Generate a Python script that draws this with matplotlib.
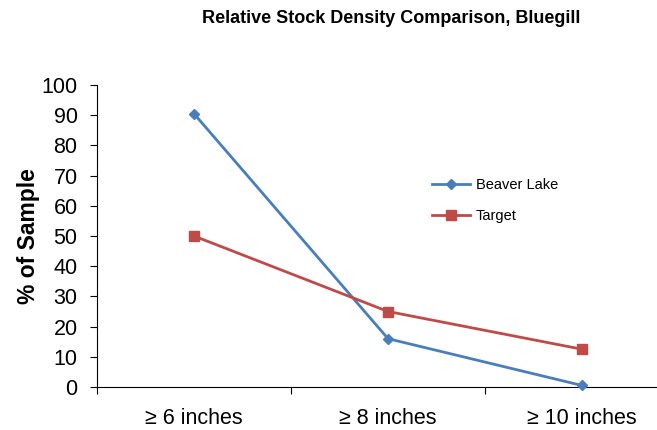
import matplotlib

matplotlib.use("Agg")
import matplotlib.pyplot as plt
from matplotlib.ticker import FixedLocator, NullFormatter, FixedFormatter

categories = ["\u2265 6 inches", "\u2265 8 inches", "\u2265 10 inches"]
beaver_lake = [90.5, 16.0, 0.5]
target = [50.0, 25.0, 12.5]
y_ticks = list(range(0, 101, 10))

BLUE = "#4A7EBB"
RED = "#BE4B48"
FONT = ["Liberation Sans", "DejaVu Sans"]

fig = plt.figure(figsize=(6.57, 4.30), dpi=100)
# plot area runs past the right edge of the picture, like the source
ax = fig.add_axes([0.1476, 0.100, 0.886, 0.7023])

xs = [i + 0.5 for i in range(len(categories))]
ax.plot(xs, beaver_lake, color=BLUE, lw=2.0, marker="D", ms=5,
        label="Beaver Lake", clip_on=False, zorder=3)
ax.plot(xs, target, color=RED, lw=2.0, marker="s", ms=6.5,
        label="Target", clip_on=False, zorder=3)

ax.set_xlim(0, len(categories))
ax.set_ylim(0, 100)
ax.set_yticks(y_ticks)
ax.xaxis.set_major_locator(FixedLocator(range(len(categories) + 1)))
ax.xaxis.set_major_formatter(NullFormatter())
ax.xaxis.set_minor_locator(FixedLocator(xs))
ax.xaxis.set_minor_formatter(FixedFormatter(categories))
ax.tick_params(axis="x", which="major", direction="out", length=5, width=0.8)
ax.tick_params(axis="x", which="minor", length=0, pad=15, labelsize=15.5)
ax.tick_params(axis="y", direction="out", length=5, width=0.8, pad=9, labelsize=15.5)
for lab in ax.get_xticklabels(minor=True) + ax.get_yticklabels():
    lab.set_family(FONT)

for side in ("top", "right"):
    ax.spines[side].set_visible(False)
for side in ("left", "bottom"):
    ax.spines[side].set_linewidth(0.8)

ax.set_ylabel("% of Sample", fontsize=16.5, fontweight="bold", labelpad=1,
              family=FONT)

fig.text(0.595, 0.958, "Relative Stock Density Comparison, Bluegill",
         ha="center", va="center", fontsize=13, fontweight="bold", family=FONT)

ax.legend(loc="upper left", bbox_to_anchor=(0.553, 0.735), frameon=False,
          handlelength=2.6, labelspacing=1.15, handletextpad=0.4,
          prop={"family": FONT, "size": 10.5})

fig.savefig("out.png", dpi=100)
